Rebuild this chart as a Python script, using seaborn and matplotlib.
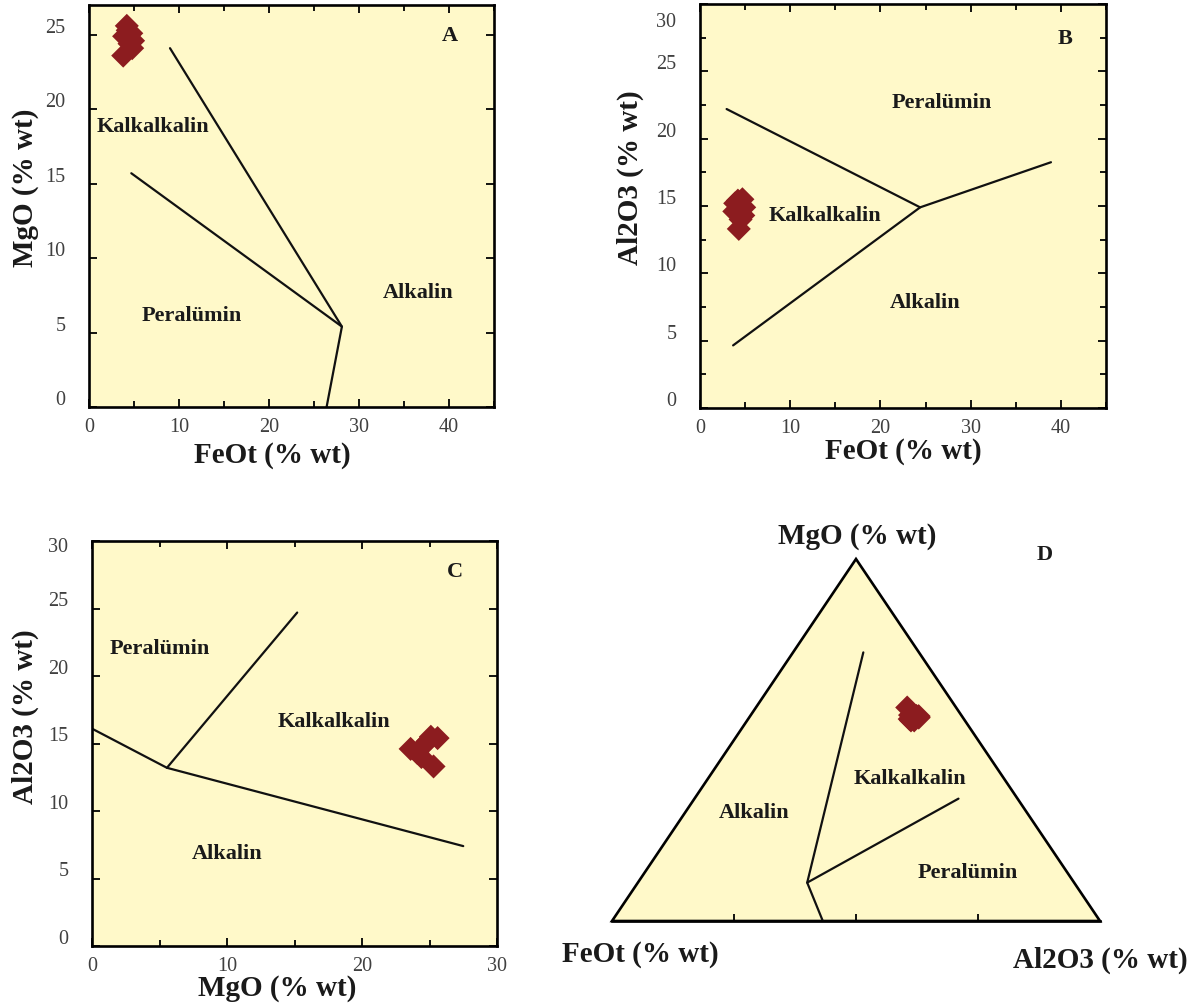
import matplotlib
matplotlib.use("Agg")
import matplotlib.pyplot as plt
import seaborn as sns
import pandas as pd
from matplotlib.ticker import MultipleLocator
from matplotlib.transforms import ScaledTranslation
from matplotlib.patches import Polygon

# ---------------- data: samples (% wt) ----------------
feot = [4.2, 4.7, 3.9, 4.9, 4.3, 4.8, 3.8, 4.5]
mgo = [25.6, 25.1, 24.9, 24.6, 25.3, 24.1, 23.6, 24.4]
al2o3 = [15.4, 15.5, 15.2, 14.9, 13.3, 14.3, 14.6, 14.0]

# ---------------- field boundaries ----------------
# A: FeOt vs MgO
a_b1_x = [9.0, 28.1, 26.4]
a_b1_y = [24.1, 5.4, 0.0]
a_b2_x = [4.7, 28.1]
a_b2_y = [15.7, 5.4]
# B: FeOt vs Al2O3
b_b1_x = [2.95, 24.4, 38.9]
b_b1_y = [22.2, 14.9, 18.25]
b_b2_x = [3.67, 24.4]
b_b2_y = [4.65, 14.9]
# C: MgO vs Al2O3
c_b1_x = [0.0, 5.55, 27.5]
c_b1_y = [16.1, 13.2, 7.4]
c_b2_x = [5.55, 15.2]
c_b2_y = [13.2, 24.7]
# D: ternary (fractions of MgO and Al2O3; FeOt = 1 - both)
d_b1_mg = [0.742, 0.106, 0.0]
d_b1_al = [0.144, 0.347, 0.432]
d_b2_mg = [0.106, 0.338]
d_b2_al = [0.347, 0.541]

field_names = ["Kalkalkalin", "Peralümin", "Alkalin"]

CREAM = "#FFF9C9"
RED = "#8C1C1F"

sns.set_theme(style="ticks")
plt.rcParams["font.family"] = ["Liberation Serif", "DejaVu Serif"]

fig = plt.figure(figsize=(11.96, 10.04), dpi=100)
W, H = 1196, 1004


def add_ax(l, r, t, b):
    return fig.add_axes([l / W, (H - b) / H, (r - l) / W, (b - t) / H])


axA = add_ax(89, 494, 6, 408)
axB = add_ax(700, 1106, 5, 409)
axC = add_ax(92, 497, 542, 947)
axD = add_ax(612, 1100, 560, 922)

df = pd.DataFrame({"FeOt": feot, "MgO": mgo, "Al2O3": al2o3})


def style(ax, xlim, ylim, xmaj, xmin, ymaj, ymin=None, top_shift=-0.10):
    ax.set_facecolor(CREAM)
    for s in ax.spines.values():
        s.set_visible(True)
        s.set_linewidth(1.9)
        s.set_color("black")
    ax.set_xlim(*xlim)
    ax.set_ylim(*ylim)
    ax.xaxis.set_major_locator(MultipleLocator(xmaj))
    ax.xaxis.set_minor_locator(MultipleLocator(xmin))
    ax.yaxis.set_major_locator(MultipleLocator(ymaj))
    if ymin:
        ax.yaxis.set_minor_locator(MultipleLocator(ymin))
    ax.tick_params(which="both", direction="in", top=True, right=True,
                   color="black", width=1.3, labelsize=14.5, labelcolor="#404040")
    ax.tick_params(which="major", length=6)
    ax.tick_params(which="minor", length=4)
    ax.tick_params(axis="y", pad=17)
    ax.tick_params(axis="x", pad=7)
    ticks = ax.get_yticks()
    for val, lbl in zip(ticks, ax.get_yticklabels()):
        dy = 0.10
        if abs(val - ylim[1]) < 1e-6:
            dy = top_shift
        lbl.set_transform(lbl.get_transform() +
                          ScaledTranslation(0, dy, fig.dpi_scale_trans))


def axis_labels(ax, xl, xpos, yl, ypos):
    ax.set_xlabel(xl, fontsize=21, fontweight="bold", color="#1a1a1a")
    ax.xaxis.set_label_coords(*xpos)
    ax.xaxis.label.set_va("center")
    ax.set_ylabel(yl, fontsize=21, fontweight="bold", color="#1a1a1a")
    ax.yaxis.set_label_coords(*ypos)
    ax.yaxis.label.set(va="center", ha="center")


def bline(ax, x, y):
    sns.lineplot(x=x, y=y, sort=False, estimator=None, color="#111111",
                 linewidth=1.6, ax=ax, legend=False)


def fields(ax, pos, letter_pos, letter):
    for name, (x, y) in zip(field_names, pos):
        ax.text(x, y, name, fontsize=16, fontweight="bold", color="#1a1a1a",
                ha="center", va="center")
    ax.text(*letter_pos, letter, fontsize=16, fontweight="bold",
            color="#1a1a1a", ha="center", va="center")


MS = 150


def points(ax, x, y):
    sns.scatterplot(data=df, x=x, y=y, marker="D", s=MS, color=RED,
                    edgecolor="none", ax=ax, legend=False, zorder=5)


# ---------- A ----------
bline(axA, a_b1_x, a_b1_y)
bline(axA, a_b2_x, a_b2_y)
points(axA, "FeOt", "MgO")
style(axA, (0, 45), (0, 27), 10, 5, 5)
axis_labels(axA, "FeOt (% wt)", (0.452, -0.117), "MgO (% wt)", (-0.158, 0.547))
fields(axA, [(7.1, 18.9), (11.4, 6.2), (36.6, 7.7)], (40.1, 25.0), "A")

# ---------- B ----------
bline(axB, b_b1_x, b_b1_y)
bline(axB, b_b2_x, b_b2_y)
points(axB, "FeOt", "Al2O3")
style(axB, (0, 45), (0, 30), 10, 5, 5, 2.5, top_shift=-0.15)
axis_labels(axB, "FeOt (% wt)", (0.502, -0.105), "Al2O3 (% wt)", (-0.172, 0.572))
fields(axB, [(13.9, 14.3), (26.8, 22.7), (25.0, 7.9)], (40.5, 27.5), "B")

# ---------- C ----------
bline(axC, c_b1_x, c_b1_y)
bline(axC, c_b2_x, c_b2_y)
points(axC, "MgO", "Al2O3")
style(axC, (0, 30), (0, 30), 10, 5, 5, top_shift=-0.03)
axis_labels(axC, "MgO (% wt)", (0.457, -0.103), "Al2O3 (% wt)", (-0.165, 0.568))
fields(axC, [(17.9, 16.7), (5.05, 22.1), (10.0, 6.9)], (26.9, 27.8), "C")

# ---------- D (ternary) ----------
def tern_xy(mg_frac, al_frac):
    x = [a + m / 2 for m, a in zip(mg_frac, al_frac)]
    return x, list(mg_frac)

tot = [f + m + a for f, m, a in zip(feot, mgo, al2o3)]
mg_f = [m / t for m, t in zip(mgo, tot)]
al_f = [a / t for a, t in zip(al2o3, tot)]
dx, dy = tern_xy(mg_f, al_f)

axD.set_xlim(0, 1)
axD.set_ylim(0, 1)
axD.set_facecolor("none")
for k, s in axD.spines.items():
    s.set_visible(k == "bottom")
axD.spines["bottom"].set_linewidth(1.9)
axD.spines["bottom"].set_color("black")
axD.add_patch(Polygon([(0, 0), (1, 0), (0.5, 1)], closed=True, facecolor=CREAM,
                      edgecolor="black", linewidth=1.9, zorder=0, clip_on=False))
axD.set_xticks([0.25, 0.5, 0.75])
axD.set_yticks([])
axD.tick_params(axis="x", direction="in", length=5, width=1.3, color="black",
                labelbottom=False)
x1, y1 = tern_xy(d_b1_mg, d_b1_al)
x2, y2 = tern_xy(d_b2_mg, d_b2_al)
bline(axD, x1, y1)
bline(axD, x2, y2)
sns.scatterplot(x=dx, y=dy, marker="D", s=MS, color=RED, edgecolor="none",
                ax=axD, legend=False, zorder=5)
axD.set_xlabel("")
axD.set_ylabel("")
for name, (x, y) in zip(field_names, [(0.610, 0.394), (0.728, 0.134), (0.292, 0.300)]):
    axD.text(x, y, name, fontsize=16, fontweight="bold", color="#1a1a1a",
             ha="center", va="center")
axD.text(0.887, 1.014, "D", fontsize=16, fontweight="bold", color="#1a1a1a",
         ha="center", va="center", clip_on=False)
axD.text(0.502, 1.064, "MgO (% wt)", fontsize=21, fontweight="bold",
         color="#1a1a1a", ha="center", va="center", clip_on=False)
axD.text(0.057, -0.091, "FeOt (% wt)", fontsize=21, fontweight="bold",
         color="#1a1a1a", ha="center", va="center", clip_on=False)
axD.text(1.0, -0.106, "Al2O3 (% wt)", fontsize=21, fontweight="bold",
         color="#1a1a1a", ha="center", va="center", clip_on=False)

fig.savefig("out.png", dpi=100, facecolor="white")
